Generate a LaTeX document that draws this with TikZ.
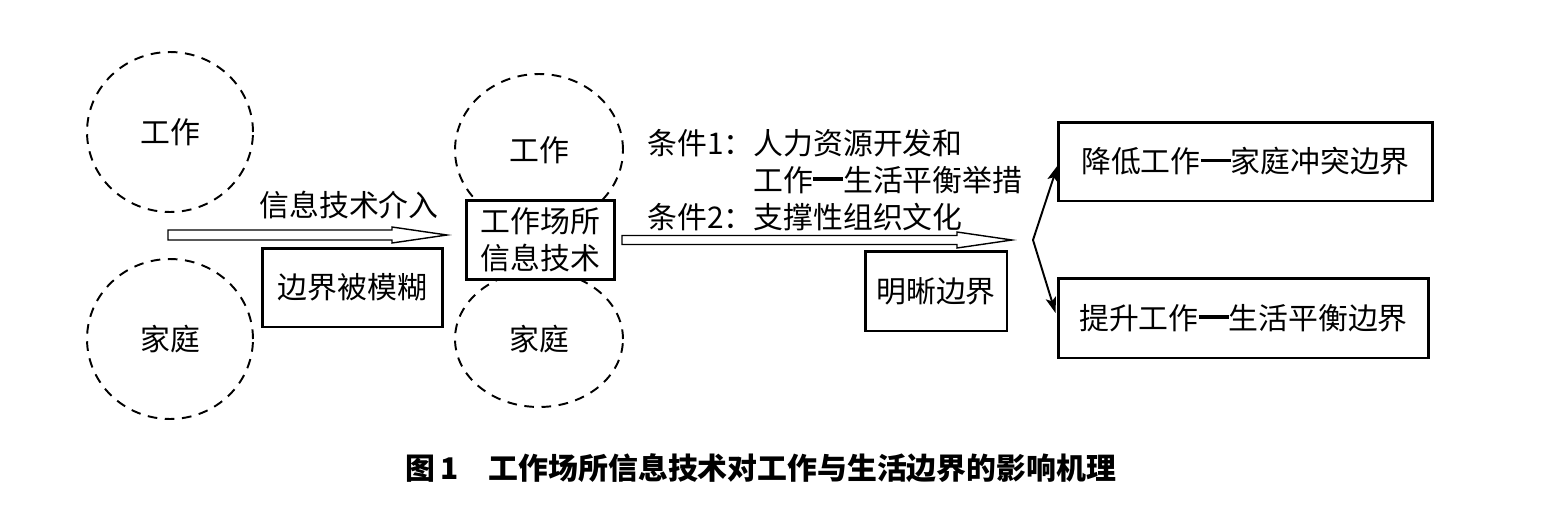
\documentclass[tikz,border=0pt]{standalone}
\usepackage{fontspec}
\setmainfont{Noto Sans CJK SC}
\usetikzlibrary{arrows.meta,calc,shapes.geometric}
\tikzset{>=Stealth}
\tikzset{
  lifezone/.style={draw, ellipse, dash pattern=on 5.5pt off 4.3pt, line width=1.1pt, inner sep=0pt},
  blockbox/.style={draw, fill=white, line width=1.7pt, minimum height=1.58cm, inner sep=0pt, align=center},
  hollow/.style={draw, line width=0.8pt, fill=white},
  branch/.style={line width=1.1pt, -{Stealth[length=9pt,width=6pt,inset=2pt]}},
}
\newcommand{\boldline}{\raisebox{0.36em}{\rule{1em}{1.8pt}}}

\begin{document}
\begin{tikzpicture}[x=0.02cm, y=-0.02cm, font=\fontsize{17}{21}\selectfont]
    \useasboundingbox (0,0) rectangle (1553,511);

    % left: two separate domains
    \node[lifezone, minimum width=3.32cm, minimum height=3.2cm] (work1) at (170,132) {工作};
    \node[lifezone, minimum width=3.32cm, minimum height=3.2cm] (home1) at (170,339) {家庭};

    % middle: domains joined by the technology
    \node[lifezone, minimum width=3.36cm, minimum height=3.04cm] (work2) at (539,150) {工作};
    \node[lifezone, minimum width=3.36cm, minimum height=2.72cm] (home2) at (539,339) {家庭};
    \node[blockbox, minimum width=2.98cm] (tech) at (540.5,240) {工作场所\\信息技术};

    % first hollow arrow
    \coordinate (in1) at (168,235);
    \coordinate (in2) at (447,235);
    \draw[hollow] ($(in1)+(0,-5)$) -- ($(in2)+(-55,-5)$) -- ($(in2)+(-55,-8)$) -- (in2)
        -- ($(in2)+(-55,8)$) -- ($(in2)+(-55,5)$) -- ($(in1)+(0,5)$) -- cycle;
    \node (enter) at (349,205) {信息技术介入};
    \node[blockbox, minimum width=3.62cm] (blur) at (352.5,287.5) {边界被模糊};

    % second hollow arrow
    \coordinate (out1) at (622,240);
    \coordinate (out2) at (1012,240);
    \draw[hollow] ($(out1)+(0,-4.5)$) -- ($(out2)+(-55,-4.5)$) -- ($(out2)+(-55,-8)$) -- (out2)
        -- ($(out2)+(-55,8)$) -- ($(out2)+(-55,4.5)$) -- ($(out1)+(0,4.5)$) -- cycle;
    \node[anchor=west, align=left, inner sep=0pt] (cond) at (647,180)
        {条件1：人力资源开发和\\\phantom{条件1：}工作\boldline 生活平衡举措\\条件2：支撑性组织文化};
    \node[blockbox, minimum width=2.84cm, minimum height=1.6cm] (clear) at (936,291) {明晰边界};

    % results
    \node[blockbox, minimum width=7.5cm] (upper) at (1245.5,161.5) {降低工作\boldline 家庭冲突边界};
    \node[blockbox, minimum width=7.42cm, minimum height=1.6cm] (lower) at (1243.5,318) {提升工作\boldline 生活平衡边界};
    \coordinate (fork) at (1033,240);
    \draw[branch] (fork) -- ($(upper.west)+(1,4)$);
    \draw[branch] (fork) -- ($(lower.west)+(-1,-5)$);

    % caption
    \node[font=\fontsize{17}{21}\selectfont\bfseries] (caption) at (761,468) {图\,1\quad 工作场所信息技术对工作与生活边界的影响机理};
\end{tikzpicture}
\end{document}
